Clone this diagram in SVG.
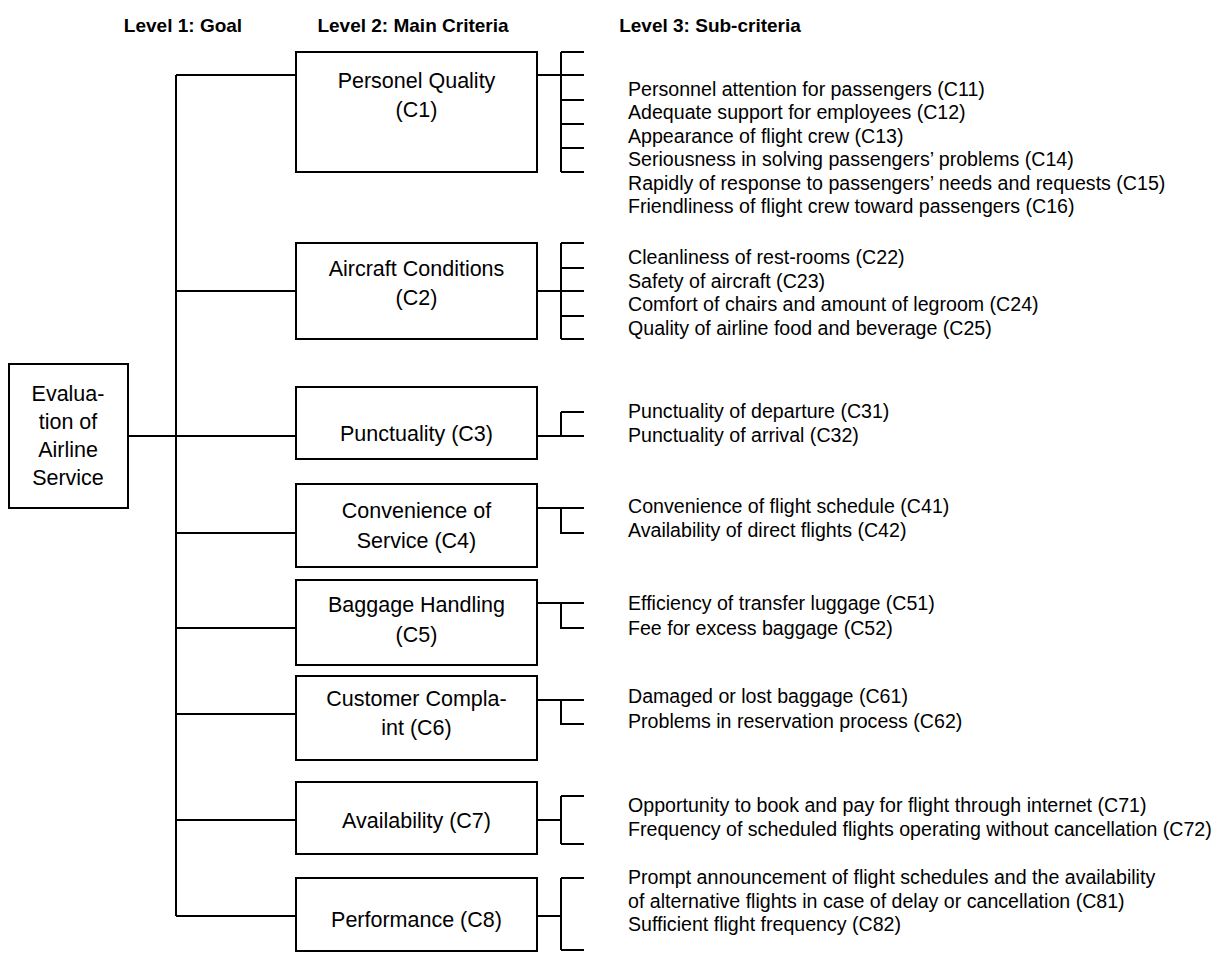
<svg xmlns="http://www.w3.org/2000/svg" width="1229" height="953" viewBox="0 0 1229 953">
<style>
.box{fill:#fff;stroke:#000;stroke-width:2}
.ln{fill:none;stroke:#000;stroke-width:2}
.hd{font-family:"Liberation Sans",Arial,sans-serif;font-weight:bold;font-size:19px;text-anchor:middle;fill:#000}
.bt{font-family:"Liberation Sans",Arial,sans-serif;font-size:21.5px;text-anchor:middle;fill:#000}
.st{font-family:"Liberation Sans",Arial,sans-serif;font-size:19.6px;fill:#000}
</style>
<rect width="1229" height="953" fill="#fff"/>
<g id="headers">
<text class="hd" x="183" y="32">Level 1: Goal</text>
<text class="hd" x="413" y="32">Level 2: Main Criteria</text>
<text class="hd" x="710" y="32">Level 3: Sub-criteria</text>
</g>
<g id="connectors">
<path class="ln" d="M176 75V916"/>
<path class="ln" d="M176 75H296M176 291H296M128 436H296M176 533H296M176 628H296M176 714H296M176 820H296M176 916H296"/>
<path class="ln" d="M537 75H561M561 52V172M561 52H584M561 75H584M561 100H584M561 124H584M561 148H584M561 172H584"/>
<path class="ln" d="M537 291H561M561 243V339M561 243H584M561 268H584M561 291H584M561 316H584M561 339H584"/>
<path class="ln" d="M537 436H561M561 412V436M561 412H584M561 436H584"/>
<path class="ln" d="M537 508H584M561 508V533H584"/>
<path class="ln" d="M537 603H584M561 603V628H584"/>
<path class="ln" d="M537 700H584M561 700V724H584"/>
<path class="ln" d="M537 820H561M561 796V844M561 796H584M561 844H584"/>
<path class="ln" d="M537 916H561M561 878V950M561 878H584M561 950H584"/>
</g>
<g id="goal">
<rect class="box" x="9" y="364" width="119" height="144"/>
<text class="bt" x="68" y="401">Evalua-</text>
<text class="bt" x="68" y="429">tion of</text>
<text class="bt" x="68" y="457">Airline</text>
<text class="bt" x="68" y="485">Service</text>
</g>
<g id="c1">
<rect class="box" x="296" y="52" width="241" height="120"/>
<text class="bt" x="416.5" y="88">Personel Quality</text>
<text class="bt" x="416.5" y="117">(C1)</text>
</g>
<g id="c2">
<rect class="box" x="296" y="243" width="241" height="96"/>
<text class="bt" x="416.5" y="276">Aircraft Conditions</text>
<text class="bt" x="416.5" y="305">(C2)</text>
</g>
<g id="c3">
<rect class="box" x="296" y="387" width="241" height="72"/>
<text class="bt" x="416.5" y="441">Punctuality (C3)</text>
</g>
<g id="c4">
<rect class="box" x="296" y="484" width="241" height="83"/>
<text class="bt" x="416.5" y="518">Convenience of</text>
<text class="bt" x="416.5" y="548">Service (C4)</text>
</g>
<g id="c5">
<rect class="box" x="296" y="580" width="241" height="85"/>
<text class="bt" x="416.5" y="612">Baggage Handling</text>
<text class="bt" x="416.5" y="642">(C5)</text>
</g>
<g id="c6">
<rect class="box" x="296" y="676" width="241" height="84"/>
<text class="bt" x="416.5" y="706">Customer Compla-</text>
<text class="bt" x="416.5" y="735">int (C6)</text>
</g>
<g id="c7">
<rect class="box" x="296" y="782" width="241" height="72"/>
<text class="bt" x="416.5" y="828">Availability (C7)</text>
</g>
<g id="c8">
<rect class="box" x="296" y="878" width="241" height="73"/>
<text class="bt" x="416.5" y="927">Performance (C8)</text>
</g>
<g id="sub-c1">
<text class="st" x="628" y="96">Personnel attention for passengers (C11)</text>
<text class="st" x="628" y="119.4">Adequate support for employees (C12)</text>
<text class="st" x="628" y="142.8">Appearance of flight crew (C13)</text>
<text class="st" x="628" y="166.2">Seriousness in solving passengers’ problems (C14)</text>
<text class="st" x="628" y="189.6">Rapidly of response to passengers’ needs and requests (C15)</text>
<text class="st" x="628" y="213">Friendliness of flight crew toward passengers (C16)</text>
</g>
<g id="sub-c2">
<text class="st" x="628" y="264">Cleanliness of rest-rooms (C22)</text>
<text class="st" x="628" y="287.5">Safety of aircraft (C23)</text>
<text class="st" x="628" y="311">Comfort of chairs and amount of legroom (C24)</text>
<text class="st" x="628" y="334.5">Quality of airline food and beverage (C25)</text>
</g>
<g id="sub-c3">
<text class="st" x="628" y="418">Punctuality of departure (C31)</text>
<text class="st" x="628" y="442">Punctuality of arrival (C32)</text>
</g>
<g id="sub-c4">
<text class="st" x="628" y="513">Convenience of flight schedule (C41)</text>
<text class="st" x="628" y="537">Availability of direct flights (C42)</text>
</g>
<g id="sub-c5">
<text class="st" x="628" y="610">Efficiency of transfer luggage (C51)</text>
<text class="st" x="628" y="635">Fee for excess baggage (C52)</text>
</g>
<g id="sub-c6">
<text class="st" x="628" y="703">Damaged or lost baggage (C61)</text>
<text class="st" x="628" y="728">Problems in reservation process (C62)</text>
</g>
<g id="sub-c7">
<text class="st" x="628" y="812">Opportunity to book and pay for flight through internet (C71)</text>
<text class="st" x="628" y="836">Frequency of scheduled flights operating without cancellation (C72)</text>
</g>
<g id="sub-c8">
<text class="st" x="628" y="884">Prompt announcement of flight schedules and the availability</text>
<text class="st" x="628" y="907.5">of alternative flights in case of delay or cancellation (C81)</text>
<text class="st" x="628" y="931">Sufficient flight frequency (C82)</text>
</g>
</svg>
